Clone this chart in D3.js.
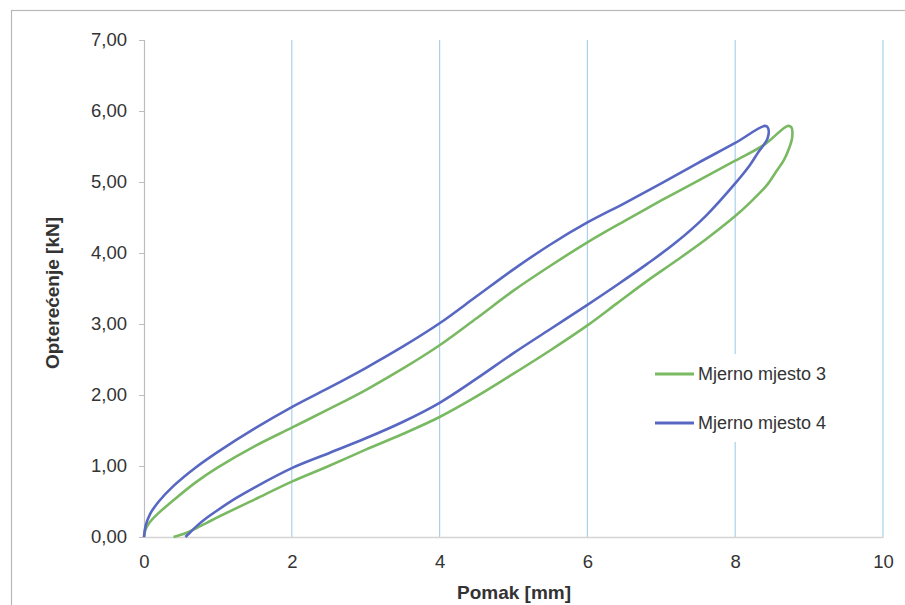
<!DOCTYPE html>
<html>
<head>
<meta charset="utf-8">
<script src="https://cdn.jsdelivr.net/npm/d3@7"></script>
<style>
  html, body { margin: 0; padding: 0; background: #fff; }
  svg { display: block; }
</style>
</head>
<body>
<svg id="chart" width="905" height="605"></svg>
<script>
// ---- data ----
const seriesNames = ["Mjerno mjesto 3", "Mjerno mjesto 4"];
const xTicks = [0, 2, 4, 6, 8, 10];
const yTicks = [0, 1, 2, 3, 4, 5, 6, 7];

// Mjerno mjesto 3 (loading, peak, unloading)
const mjesto3X = [0, 0.02, 0.08, 0.2, 0.4, 0.7, 1.0, 1.5, 2.0, 2.5, 3.0, 3.5, 4.0, 4.5, 5.0, 5.5, 6.0, 6.5, 7.0, 7.5, 8.0, 8.4, 8.71, 8.76, 8.77,
  8.72, 8.66, 8.55, 8.44, 8.2, 8.0, 7.6, 7.2, 6.8, 6.4, 6.0, 5.5, 5.0, 4.5, 4.0, 3.5, 3.0, 2.5, 2.0, 1.5, 1.0, 0.85, 0.7, 0.55, 0.4];
const mjesto3Y = [0, 0.1, 0.21, 0.34, 0.52, 0.77, 0.98, 1.28, 1.54, 1.8, 2.07, 2.37, 2.7, 3.08, 3.47, 3.82, 4.15, 4.45, 4.74, 5.02, 5.3, 5.53, 5.79, 5.77, 5.62,
  5.45, 5.31, 5.14, 4.97, 4.71, 4.52, 4.19, 3.89, 3.6, 3.29, 2.98, 2.63, 2.3, 1.98, 1.69, 1.45, 1.23, 1.0, 0.78, 0.53, 0.28, 0.2, 0.12, 0.05, 0];

// Mjerno mjesto 4 (loading, peak, unloading)
const mjesto4X = [0, 0.02, 0.08, 0.2, 0.4, 0.7, 1.0, 1.5, 2.0, 2.5, 3.0, 3.5, 4.0, 4.5, 5.0, 5.5, 6.0, 6.5, 7.0, 7.5, 8.0, 8.4, 8.44, 8.44,
  8.3, 8.2, 8.0, 7.6, 7.2, 6.8, 6.4, 6.0, 5.5, 5.0, 4.5, 4.0, 3.5, 3.0, 2.5, 2.0, 1.5, 1.25, 1.0, 0.85, 0.72, 0.62, 0.56];
const mjesto4Y = [0, 0.15, 0.32, 0.5, 0.72, 0.98, 1.2, 1.53, 1.83, 2.1, 2.38, 2.68, 3.01, 3.39, 3.77, 4.12, 4.43, 4.7, 4.98, 5.27, 5.55, 5.79, 5.77, 5.62,
  5.4, 5.24, 4.98, 4.52, 4.15, 3.84, 3.55, 3.27, 2.93, 2.59, 2.23, 1.89, 1.62, 1.39, 1.18, 0.97, 0.7, 0.55, 0.38, 0.27, 0.16, 0.06, 0];

const seriesColors = ["#79b961", "#5868c2"];

// ---- chart ----
const svg = d3.select("#chart");
const plot = { left: 144, right: 883, top: 40, bottom: 537 };
const font = "Liberation Sans, Arial, sans-serif";

const x = d3.scaleLinear().domain([0, 10]).range([plot.left, plot.right]);
const y = d3.scaleLinear().domain([0, 7]).range([plot.bottom, plot.top]);

// outer frame
svg.append("rect")
  .attr("x", 11.5).attr("y", 10.5)
  .attr("width", 900).attr("height", 600)
  .attr("fill", "#fff").attr("stroke", "#b8b8b8").attr("stroke-width", 1.2);

// vertical gridlines
svg.append("g").selectAll("line")
  .data(xTicks.filter(d => d > 0))
  .join("line")
  .attr("x1", d => x(d)).attr("x2", d => x(d))
  .attr("y1", y(7)).attr("y2", y(0))
  .attr("stroke", "#a9d1ec").attr("stroke-width", 1.2);

// x axis
const xAxis = d3.axisBottom(x).tickValues(xTicks).tickSize(0).tickPadding(18)
  .tickFormat(d3.format("d"));
const gx = svg.append("g").attr("transform", `translate(0,${plot.bottom})`).call(xAxis);
gx.select(".domain").attr("stroke", "#d4d4d4").attr("stroke-width", 1.5);
gx.selectAll("text").attr("font-family", font)
  .attr("font-size", 18.5).attr("fill", "#333");

// y axis
const yAxis = d3.axisLeft(y).tickValues(yTicks).tickSize(5).tickPadding(12)
  .tickFormat(d => d3.format(".2f")(d).replace(".", ","));
const gy = svg.append("g").attr("transform", `translate(${plot.left},0)`).call(yAxis);
gy.select(".domain").attr("stroke", "#bdbdbd").attr("stroke-width", 1.2);
gy.selectAll(".tick line").attr("stroke", "#bdbdbd");
gy.selectAll("text").attr("font-family", font)
  .attr("font-size", 18.5).attr("fill", "#333");

// series
const line = d3.line().x(d => x(d[0])).y(d => y(d[1])).curve(d3.curveCatmullRom.alpha(0.5));
const series = [
  d3.zip(mjesto3X, mjesto3Y),
  d3.zip(mjesto4X, mjesto4Y)
];
svg.append("g").selectAll("path")
  .data(series)
  .join("path")
  .attr("d", line)
  .attr("fill", "none")
  .attr("stroke", (d, i) => seriesColors[i])
  .attr("stroke-width", 2.6)
  .attr("stroke-linejoin", "round");

// legend
const lg = svg.append("g");
lg.append("rect").attr("x", 648).attr("y", 354).attr("width", 192).attr("height", 88).attr("fill", "#fff");
const legendY = [374, 423];
seriesNames.forEach((name, i) => {
  lg.append("line")
    .attr("x1", 655).attr("x2", 694)
    .attr("y1", legendY[i]).attr("y2", legendY[i])
    .attr("stroke", seriesColors[i]).attr("stroke-width", 3);
  lg.append("text")
    .attr("x", 698).attr("y", legendY[i]).attr("dy", "0.36em")
    .attr("font-family", font)
    .attr("font-size", 18).attr("fill", "#333")
    .text(name);
});

// axis titles
svg.append("text")
  .attr("x", 514).attr("y", 599)
  .attr("text-anchor", "middle")
  .attr("font-family", font)
  .attr("font-size", 19).attr("font-weight", "bold").attr("fill", "#333")
  .text("Pomak [mm]");

svg.append("text")
  .attr("transform", "translate(59,293) rotate(-90)")
  .attr("text-anchor", "middle")
  .attr("font-family", font)
  .attr("font-size", 19).attr("font-weight", "bold").attr("fill", "#333")
  .text("Opterećenje [kN]");
</script>
</body>
</html>
